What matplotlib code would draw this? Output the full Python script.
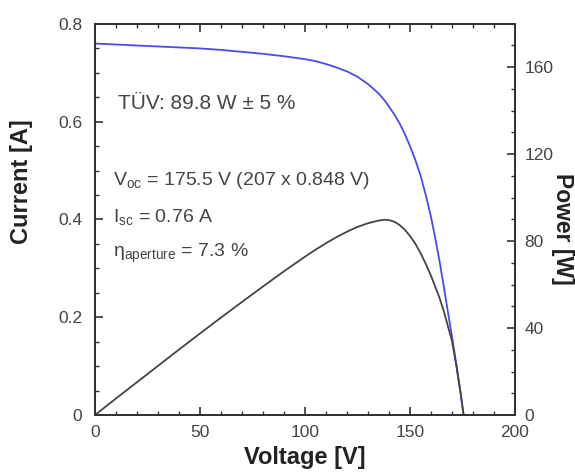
import numpy as np
import matplotlib.pyplot as plt
from matplotlib.ticker import MultipleLocator

# Font settings
plt.rcParams["font.family"] = ["Liberation Sans", "DejaVu Sans"]
plt.rcParams["mathtext.default"] = "regular"

voltage = [0, 10, 20, 30, 40, 50, 60, 70, 80, 90, 100, 105, 110, 115, 120,
           125, 130, 135, 138, 140, 142.5, 145, 147.5, 150, 152.5, 155, 157.5,
           160, 162, 164, 166, 168, 170, 172, 174, 175.5]
current = [0.760, 0.758, 0.756, 0.754, 0.752, 0.750, 0.747, 0.743, 0.739,
           0.734, 0.728, 0.724, 0.718, 0.711, 0.703, 0.692, 0.677, 0.658,
           0.643, 0.631, 0.615, 0.597, 0.575, 0.550, 0.522, 0.490, 0.450,
           0.405, 0.362, 0.316, 0.265, 0.212, 0.160, 0.105, 0.048, 0.0]
power = [0, 7.6, 15.1, 22.6, 30.1, 37.5, 44.8, 52.0, 59.1, 66.1, 72.8, 76.0,
         79.0, 81.8, 84.3, 86.5, 88.2, 89.4, 89.8, 89.6, 88.9, 87.4, 85.2,
         82.3, 78.8, 74.5, 69.5, 64.0, 59.0, 54.0, 48.0, 41.0, 34.0, 23.0,
         10.5, 0.0]

x_ticks = [0, 50, 100, 150, 200]
i_ticks = [0, 0.2, 0.4, 0.6, 0.8]
i_labels = ["0", "0.2", "0.4", "0.6", "0.8"]
p_ticks = [0, 40, 80, 120, 160]

spine_c = "#333333"
text_c = "#444444"

fig = plt.figure(figsize=(5.75, 4.75), dpi=100)
ax = fig.add_axes([0.1652, 0.1263, 0.7305, 0.8232])
ax2 = ax.twinx()

ax.plot(voltage, current, color="#4a4af5", linewidth=1.3, zorder=3)
ax2.plot(voltage, power, color="#444444", linewidth=1.3)

ax.set_xlim(0, 200)
ax.set_ylim(0, 0.8)
ax2.set_ylim(0, 179.8)

ax.set_xticks(x_ticks)
ax.set_yticks(i_ticks, i_labels)
ax2.set_yticks(p_ticks)
ax.xaxis.set_minor_locator(MultipleLocator(10))
ax.yaxis.set_minor_locator(MultipleLocator(0.05))
ax2.yaxis.set_minor_locator(MultipleLocator(10))

for a in (ax, ax2):
    for s in a.spines.values():
        s.set_color(spine_c)
        s.set_linewidth(1.4)

ax.tick_params(which="both", direction="in", top=True, right=False,
               color=spine_c, labelcolor=text_c, labelsize=12.5)
ax.tick_params(which="major", length=6, width=1.2)
ax.tick_params(which="minor", length=3, width=1.0)
ax.tick_params(axis="x", pad=7)
ax.tick_params(axis="y", pad=9)
ax2.tick_params(which="both", direction="in", color=spine_c,
                labelcolor=text_c, labelsize=12.5, pad=7)
ax2.tick_params(which="major", length=6, width=1.2)
ax2.tick_params(which="minor", length=3, width=1.0)

ax.set_xlabel("Voltage [V]", fontsize=17, fontweight="bold", color="#222222")
ax.xaxis.set_label_coords(0.5, -0.08)
ax.set_ylabel("Current [A]", fontsize=17, fontweight="bold", color="#222222",
              va="center")
ax.yaxis.set_label_coords(-0.176, 0.596)
ax2.set_ylabel("Power [W]", fontsize=16.5, fontweight="bold", color="#222222",
               rotation=-90, va="center", ha="center")
ax2.yaxis.set_label_coords(1.112, 0.476)

# Annotations
ax.text(11, 0.6255, "TÜV: 89.8 W ± 5 %", fontsize=15, color=text_c, va="baseline")
ax.text(8.6, 0.4706, r"$V_{oc}$ = 175.5 V (207 x 0.848 V)", fontsize=14,
        color=text_c, va="baseline")
ax.text(8.6, 0.3955, r"$I_{sc}$ = 0.76 A", fontsize=14, color=text_c, va="baseline")
ax.text(8.6, 0.324, r"$\eta_{aperture}$ = 7.3 %", fontsize=14, color=text_c,
        va="baseline")

plt.savefig("out.png", dpi=100)
